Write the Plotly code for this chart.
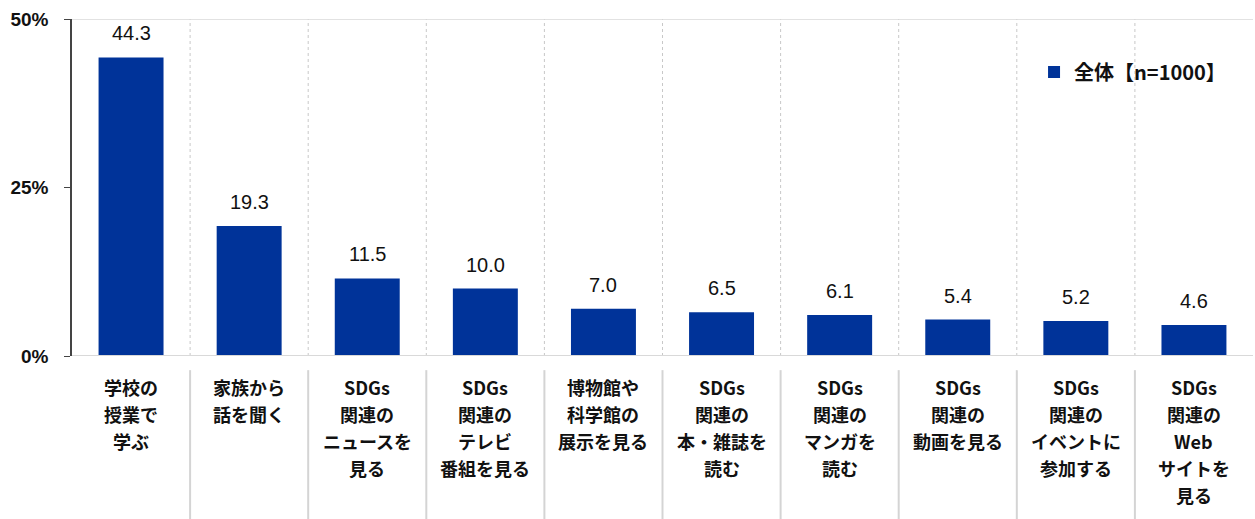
import plotly.graph_objects as go

categories = [
    ["学校の", "授業で", "学ぶ"],
    ["家族から", "話を聞く"],
    ["SDGs", "関連の", "ニュースを", "見る"],
    ["SDGs", "関連の", "テレビ", "番組を見る"],
    ["博物館や", "科学館の", "展示を見る"],
    ["SDGs", "関連の", "本・雑誌を", "読む"],
    ["SDGs", "関連の", "マンガを", "読む"],
    ["SDGs", "関連の", "動画を見る"],
    ["SDGs", "関連の", "イベントに", "参加する"],
    ["SDGs", "関連の", "Web", "サイトを", "見る"],
]
values = [44.3, 19.3, 11.5, 10.0, 7.0, 6.5, 6.1, 5.4, 5.2, 4.6]
series_name = "全体【n=1000】"
y_ticks = [0, 25, 50]
y_tick_labels = ["0%", "25%", "50%"]

FONT = "Noto Sans CJK JP"
NUMFONT = "Liberation Sans"
BAR = "#003399"
n = len(categories)
xs = list(range(n))

fig = go.Figure()
fig.add_trace(go.Bar(
    x=xs, y=values, name="<b>" + series_name + "</b>",
    marker=dict(color=BAR, line=dict(width=0)),
    width=0.55, showlegend=True, hoverinfo="skip",
))

shapes = []
for i in range(n - 1):
    shapes.append(dict(type="line", xref="x", yref="y", x0=i + 0.5, x1=i + 0.5, y0=0, y1=50,
                       line=dict(color="#c8c8c8", width=1, dash="dot"), layer="below"))
    shapes.append(dict(type="line", xref="x", yref="paper", x0=i + 0.5, x1=i + 0.5, y0=-0.042, y1=-0.5,
                       line=dict(color="#d4d4d4", width=2)))
shapes.append(dict(type="line", xref="paper", yref="y", x0=0, x1=1, y0=50, y1=50,
                   line=dict(color="#d9d9d9", width=1.5)))
shapes.append(dict(type="line", xref="paper", yref="y", x0=0, x1=1, y0=0, y1=0,
                   line=dict(color="#d9d9d9", width=2)))

annotations = []
for i, v in enumerate(values):
    annotations.append(dict(x=i, y=v, xref="x", yref="y", text=f"{v:.1f}", showarrow=False,
                            yanchor="middle", xanchor="center", yshift=24,
                            font=dict(family=NUMFONT, size=20, color="#111111")))
for i, lines in enumerate(categories):
    for k, line in enumerate(lines):
        annotations.append(dict(x=i, y=0, xref="x", yref="paper", text="<b>" + line + "</b>",
                                showarrow=False, yanchor="middle", xanchor="center",
                                yshift=-(31 + 27 * k),
                                font=dict(family=FONT, size=18, color="#111111")))

fig.update_layout(
    width=1255, height=519,
    margin=dict(l=72, r=2, t=19, b=163),
    paper_bgcolor="white", plot_bgcolor="white",
    xaxis=dict(range=[-0.5, n - 0.5], showticklabels=False, showgrid=False, zeroline=False,
               ticks="", showline=False),
    yaxis=dict(range=[0, 50], tickvals=y_ticks, ticktext=y_tick_labels, showgrid=False,
               zeroline=False, showline=True, linecolor="#444444", linewidth=1.5,
               ticks="outside", ticklen=6, tickcolor="#444444", ticklabelstandoff=12,
               tickfont=dict(family=NUMFONT, size=19, color="#111111", weight="bold")),
    shapes=shapes, annotations=annotations,
    legend=dict(x=0.8146, y=0.843, xanchor="left", yanchor="middle", bgcolor="rgba(0,0,0,0)",
                font=dict(family=FONT, size=20, color="#111111"), itemwidth=30),
    font=dict(family=FONT),
)

fig.write_html("out.html", config={"displayModeBar": False},
               post_script="document.body.style.margin='0';")
